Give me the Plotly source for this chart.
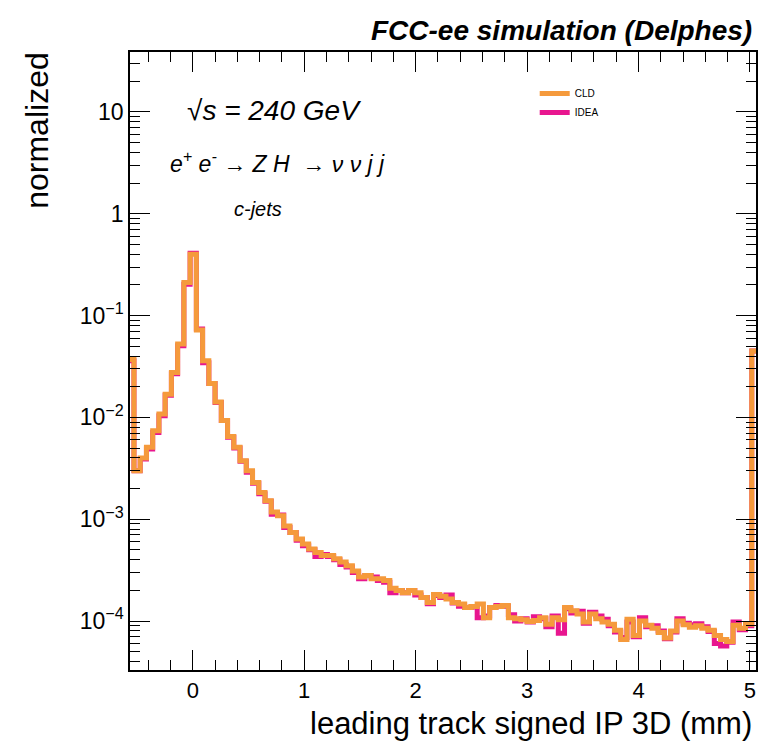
import plotly.graph_objects as go

# ---------------- data ----------------
x_lo, x_hi = -0.5635, 5.054          # axis/frame limits (mm)
first_edge, bin_w, n_inner = -0.528, 0.056, 100
bin_edges = [x_lo] + [round(first_edge + bin_w * k, 4) for k in range(n_inner)] + [x_hi]

cld = [0.037, 0.0030, 0.0040, 0.0051, 0.0074, 0.0108, 0.0169, 0.0276, 0.0525, 0.211,
       0.40, 0.072, 0.036, 0.0215, 0.0142, 0.0093, 0.0065, 0.0051, 0.00375, 0.0030,
       0.00229, 0.00183, 0.00152, 0.00118, 0.00108, 0.00086, 0.00074, 0.00064, 0.00057, 0.00051,
       0.00047, 0.00044, 0.00044, 0.00041, 0.00038, 0.00035, 0.00031, 0.00027, 0.00028, 0.00026,
       0.00026, 0.00025, 0.00021, 0.00020, 0.00019, 0.00020, 0.00019, 0.00017, 0.000152, 0.000182,
       0.000175, 0.000165, 0.000152, 0.000147, 0.000136, 0.000139, 0.000147, 0.000108, 0.000136, 0.000139,
       0.000142, 0.000108, 0.000105, 0.000103, 0.000099, 0.000101, 0.000108, 0.000093, 0.000108, 0.000103,
       0.000136, 0.000126, 0.000117, 0.000098, 0.000117, 0.000105, 0.000098, 0.000093, 0.000081, 0.000066,
       0.000104, 0.000072, 0.000100, 0.000091, 0.000085, 0.000077, 0.000068, 0.000080, 0.000100, 0.000092,
       0.000087, 0.000090, 0.000085, 0.000081, 0.000072, 0.000066, 0.000063, 0.000091, 0.000085, 0.000093,
       0.045]

idea = [0.036, 0.0030, 0.0039, 0.0049, 0.0071, 0.0104, 0.0165, 0.0268, 0.0505, 0.203,
        0.41, 0.074, 0.0345, 0.0215, 0.0140, 0.0093, 0.0064, 0.0050, 0.0037, 0.0029,
        0.00225, 0.00178, 0.00150, 0.00112, 0.00110, 0.00083, 0.00074, 0.00062, 0.00055, 0.00050,
        0.00043, 0.00045, 0.00043, 0.00040, 0.00036, 0.00034, 0.00030, 0.00026, 0.00028, 0.00027,
        0.00025, 0.00024, 0.00019, 0.00020, 0.00019, 0.00020, 0.00018, 0.00017, 0.000148, 0.000178,
        0.000170, 0.000180, 0.000150, 0.000140, 0.000136, 0.000137, 0.000108, 0.000112, 0.000136, 0.000142,
        0.000140, 0.000115, 0.000100, 0.000105, 0.000098, 0.000110, 0.000105, 0.000088, 0.000112, 0.000076,
        0.000132, 0.000120, 0.000125, 0.000095, 0.000122, 0.000112, 0.000104, 0.000090, 0.000078, 0.000069,
        0.000098, 0.000070, 0.000108, 0.000088, 0.000090, 0.000080, 0.000067, 0.000078, 0.000105, 0.000095,
        0.000092, 0.000094, 0.000088, 0.000079, 0.000060, 0.000057, 0.000062, 0.000098, 0.000082, 0.000090,
        0.045]

series_names = ["IDEA", "CLD"]
series_colors = {"CLD": "#f59a3c", "IDEA": "#e8168f"}

x_ticks = [0, 1, 2, 3, 4, 5]
y_tickvals = [1e1, 1, 1e-1, 1e-2, 1e-3, 1e-4]
y_ticktext = ["10", "1", "10<sup>\u22121</sup>", "10<sup>\u22122</sup>",
              "10<sup>\u22123</sup>", "10<sup>\u22124</sup>"]
y_lo, y_hi = -4.481, 1.589  # log10 limits

FONT = "Liberation Sans, Arial, Helvetica, sans-serif"

def step_xy(vals):
    xs = list(bin_edges[:-1]) + [bin_edges[-1]]
    ys = list(vals) + [vals[-1]]
    return xs, ys

fig = go.Figure()
data = {"CLD": cld, "IDEA": idea}
for name in series_names:
    xs, ys = step_xy(data[name])
    fig.add_trace(go.Scatter(
        x=xs, y=ys, mode="lines", name=name,
        line=dict(color=series_colors[name], width=5, shape="hv"),
        showlegend=False,
    ))
# legend entries in ROOT order (CLD first)
for name in ["CLD", "IDEA"]:
    fig.add_trace(go.Scatter(x=[None], y=[None], mode="lines", name=name,
                             line=dict(color=series_colors[name], width=5)))

L, R, T, B = 130, 11, 52, 74
W, H = 769, 744
pw, ph = W - L - R, H - T - B

def px(xp):
    return (xp - L) / pw

def py(yp):
    return (H - B - yp) / ph

fig.update_layout(
    width=W, height=H,
    margin=dict(l=L, r=R, t=T, b=B),
    paper_bgcolor="white", plot_bgcolor="white",
    font=dict(family=FONT, color="black"),
    legend=dict(x=px(536), y=py(79), xanchor="left", yanchor="top",
                font=dict(size=10, family=FONT), bgcolor="rgba(0,0,0,0)",
                tracegroupgap=0),
    xaxis=dict(range=[x_lo, x_hi], tickvals=x_ticks, ticktext=[str(v) for v in x_ticks],
               ticks="inside", ticklen=20, tickwidth=1, tickcolor="black",
               minor=dict(ticks="inside", ticklen=10, dtick=0.2, tickwidth=1, tickcolor="black"),
               showline=True, linecolor="black", linewidth=1.5, mirror="allticks",
               showgrid=False, zeroline=False,
               tickfont=dict(size=22, family=FONT)),
    yaxis=dict(type="log", range=[y_lo, y_hi], tickvals=y_tickvals, ticktext=y_ticktext,
               ticks="inside", ticklen=20, tickwidth=1, tickcolor="black",
               minor=dict(ticks="inside", ticklen=10, dtick="D1", tickwidth=1, tickcolor="black"),
               showline=True, linecolor="black", linewidth=1.5, mirror="allticks",
               showgrid=False, zeroline=False,
               tickfont=dict(size=23, family=FONT)),
)

ann = [
    dict(text="FCC-ee simulation (Delphes)", x=px(756), y=py(30), xanchor="right", yanchor="middle",
         font=dict(size=28, family=FONT, weight="bold", style="italic")),
    dict(text="\u221A<i>s</i> = 240 GeV", x=px(185), y=py(110), xanchor="left", yanchor="middle",
         font=dict(size=28, family=FONT, style="italic")),
    dict(text="e<sup>+</sup> e<sup>-</sup> \u2192 Z H  \u2192 \u03BD \u03BD j j", x=px(168), y=py(162),
         xanchor="left", yanchor="middle", font=dict(size=23, family=FONT, style="italic")),
    dict(text="c-jets", x=px(232), y=py(209), xanchor="left", yanchor="middle",
         font=dict(size=20, family=FONT, style="italic")),
    dict(text="leading track signed IP 3D (mm)", x=px(756), y=py(723), xanchor="right", yanchor="middle",
         font=dict(size=31, family=FONT)),
    dict(text="normalized", x=px(37), y=py(50), xanchor="center", yanchor="top", textangle=-90,
         font=dict(size=32, family=FONT)),
]
for a in ann:
    a.update(xref="paper", yref="paper", showarrow=False)
fig.update_layout(annotations=ann)

fig.write_html("out.html")
